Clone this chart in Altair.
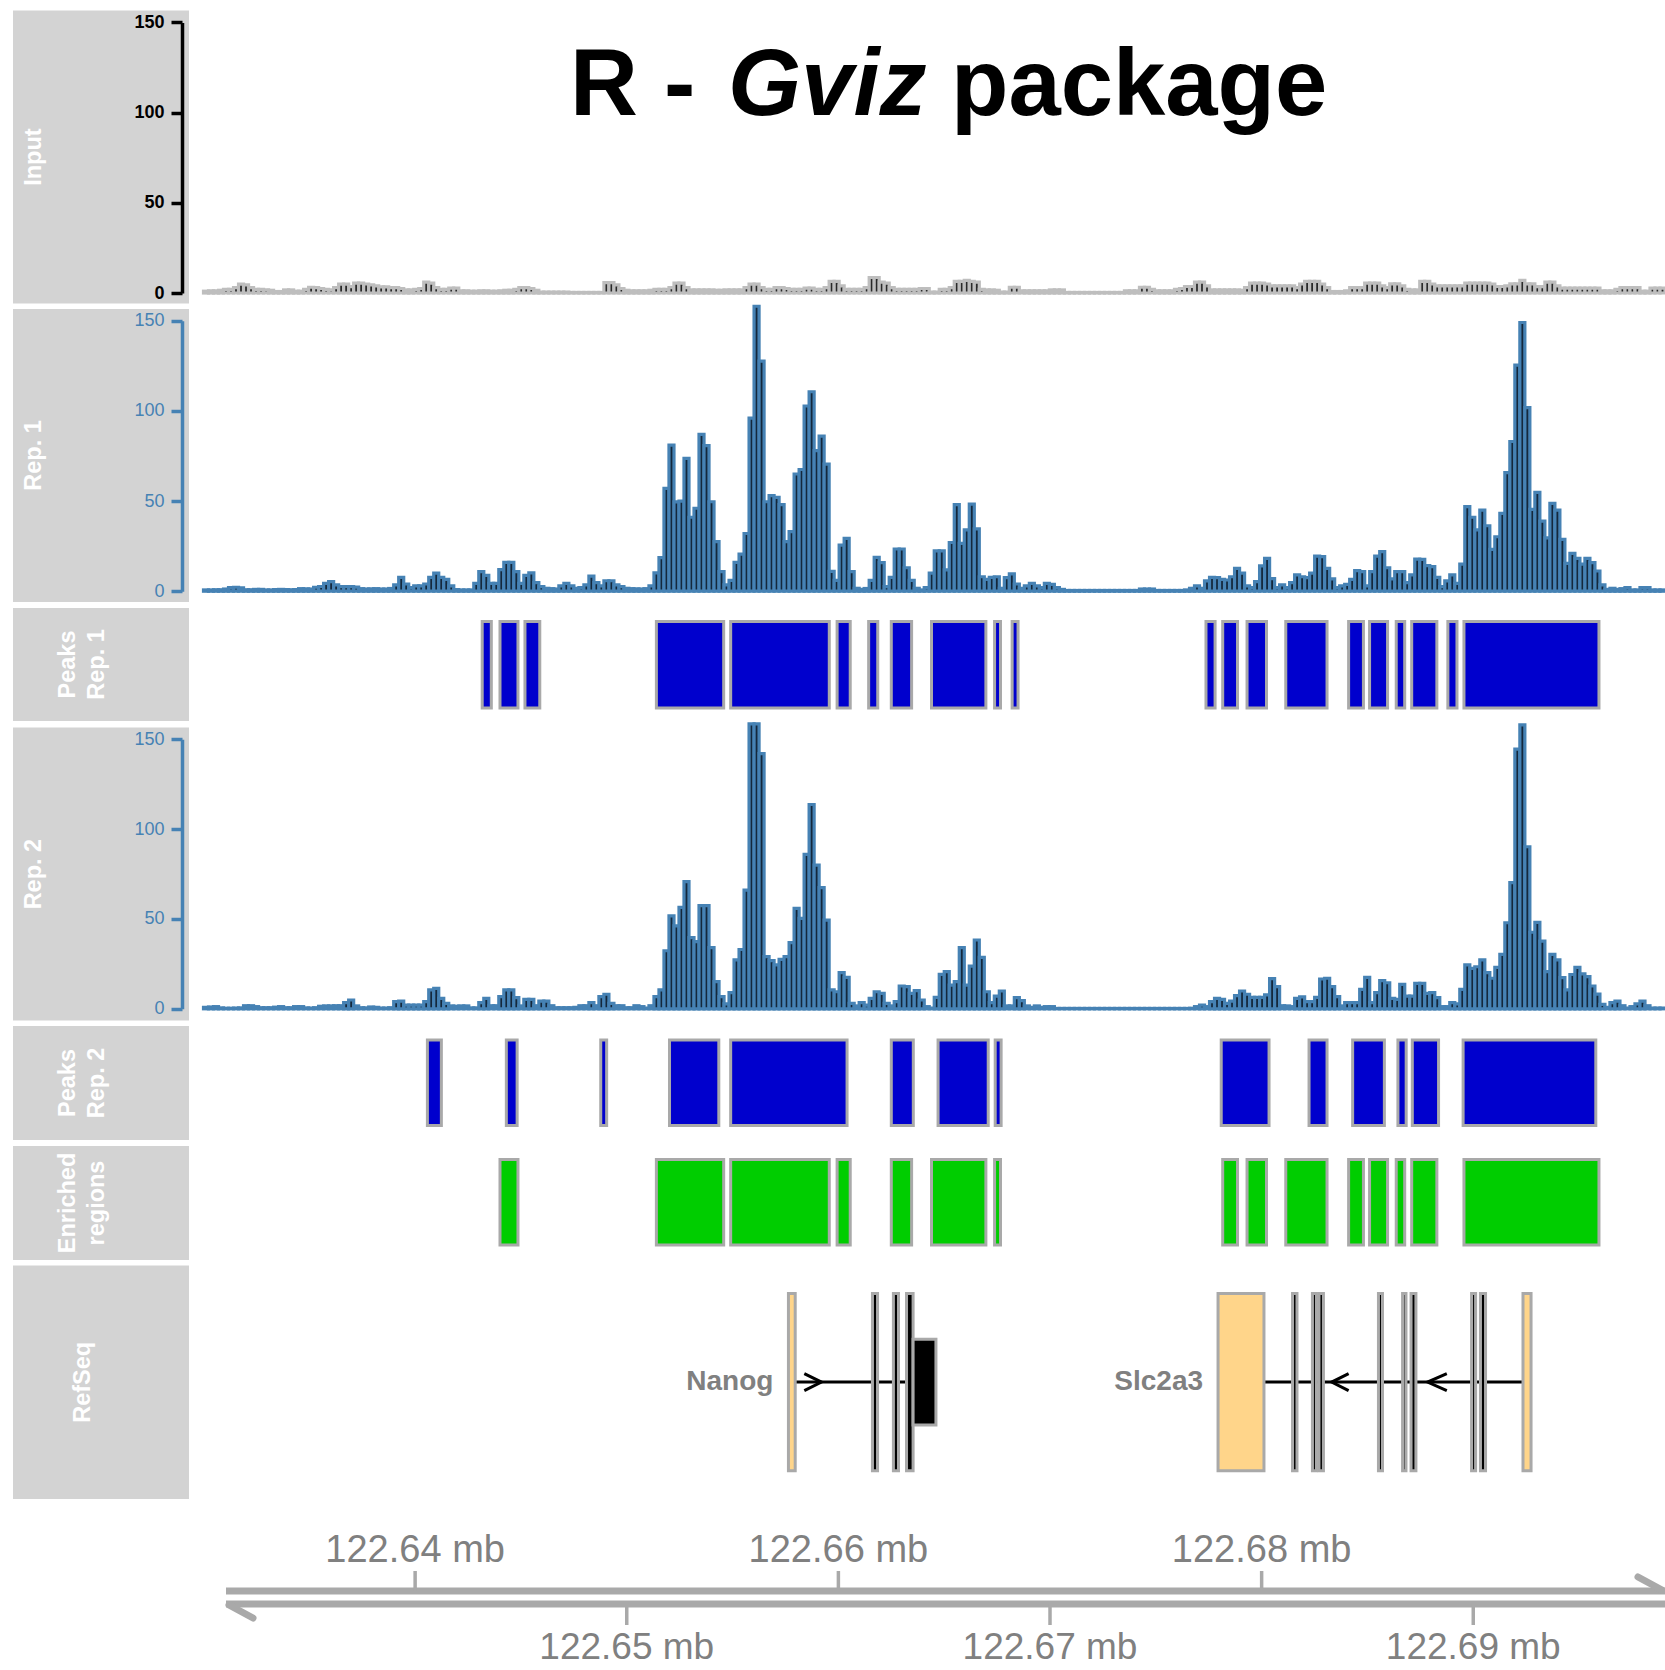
import altair as alt
import pandas as pd

FONT = "Liberation Sans"
W, H = 1665, 1670

# Genomic window shown (kb on chr6) and the coverage binning
WIN_START = 122630.0
WIN_END = 122699.06
N_BINS = 292
BIN_KB = (WIN_END - WIN_START) / N_BINS

# Read coverage per bin
INPUT_COV = [
    1, 1.2, 1.2, 1.5, 2, 2, 3, 4.9, 4.5, 3,
    2, 2, 1.8, 1.5, 0.8, 0.8, 1.7, 1.7, 1, 1,
    2, 3.2, 3, 2.5, 2, 1.8, 3, 4.9, 4.9, 3.5,
    5.5, 5.5, 5, 4.5, 4, 3.4, 3.4, 3, 3, 2.5,
    1.7, 1.7, 2, 2.5, 6, 5.5, 3, 2, 2, 2.7,
    2.7, 1.2, 1.2, 1, 1, 1.2, 1.2, 1, 1, 1.2,
    1.5, 1.5, 2, 3, 3, 2.5, 1.5, 0.5, 0.5, 0.5,
    0.5, 0.5, 0.5, 0.3, 0.3, 0.3, 0.3, 0.3, 0.3, 0.3,
    5.8, 5.8, 4.5, 2.5, 1.5, 1.2, 1.2, 1.2, 1.2, 1.5,
    2, 2, 2, 3, 5.5, 5.5, 3, 1.7, 1.7, 1.7,
    1.7, 1.7, 1.5, 1.5, 1.7, 1.7, 1.7, 1.7, 3, 4.9,
    4.9, 3, 2, 2, 3, 3, 2.5, 2, 2, 2,
    2.7, 2.7, 2, 2, 3, 6.4, 6.4, 4, 2, 2,
    2, 2, 3, 8.6, 8.6, 6, 5.5, 3, 2, 2,
    2, 2, 2, 2.5, 2.5, 0.5, 0.5, 2, 2, 3,
    6.4, 6.4, 7, 6.4, 6, 2, 1.7, 1.7, 1.5, 0.5,
    0.5, 3.2, 3.2, 1.2, 1.2, 1.2, 1.2, 1.2, 1.2, 1.7,
    1.7, 1.7, 0.3, 0.3, 0.3, 0.3, 0.3, 0.3, 0.3, 0.3,
    0.3, 0.3, 0.3, 0.3, 1.2, 1.2, 1.2, 3.2, 3.2, 2,
    1.2, 1.2, 1.2, 1.2, 2, 2.5, 3.6, 3.6, 6, 6,
    4, 1.7, 1.7, 1.7, 1.7, 1.7, 1.7, 1.5, 3, 5.5,
    5.5, 5.5, 5, 4, 4, 4, 4, 4, 3, 5,
    6.4, 6.4, 6.4, 5, 3, 0.8, 0.8, 0.8, 1.2, 3,
    3, 3, 5.5, 5.5, 5.5, 4, 3, 5.1, 5.1, 4,
    2, 1.7, 1.7, 6.4, 6.4, 5, 4, 4, 4, 4,
    4, 4, 5.5, 5.5, 5.5, 5.5, 5.5, 5, 3.6, 3.6,
    4, 5.1, 5.1, 7, 5.1, 5.1, 3.5, 3.5, 6, 6,
    4, 2.7, 2.7, 2.7, 2.7, 2.7, 2.7, 2.7, 2.7, 1.2,
    1.2, 1.2, 2, 3, 3, 3, 3, 1, 1, 2.7,
    2.7, 2.7,
]

REP1_COV = [
    0.7, 0.7, 0.8, 0.8, 1.2, 2, 2.2, 1.8, 0.8, 0.8,
    1, 1, 0.7, 0.7, 0.9, 1, 0.9, 0.8, 0.9, 1.4,
    1.3, 1.2, 2.2, 2.6, 4.3, 5.3, 3.5, 2.5, 2.5, 2.5,
    2.3, 1.4, 1.2, 1.3, 1.4, 1.2, 1.2, 1.5, 3.5, 7.7,
    4, 2, 3, 3, 4, 7.7, 10, 7.7, 6.6, 3,
    0.9, 0.7, 0.7, 0.7, 4.3, 10.8, 8.8, 4.3, 4.3, 12,
    16, 16, 10.8, 4.3, 8.8, 10.2, 4.8, 2.5, 1.6, 1.4,
    1.2, 3, 4.3, 3, 1.6, 2, 3.5, 8.4, 4.8, 3,
    5.8, 5.8, 3.5, 2.5, 1.6, 1.4, 1.3, 1.2, 1.4, 3,
    10.2, 18.6, 57, 81, 49.5, 50, 73.6, 41, 46, 87,
    80.7, 49.6, 27.5, 10.8, 3.5, 6, 16, 20.6, 32, 96,
    158, 127.6, 49.6, 53, 52, 48, 27.5, 33, 65, 67.5,
    102.7, 110.6, 78, 86, 70.5, 11, 6, 25.6, 29.3, 10.8,
    1.6, 1, 1.5, 6, 18.8, 15.8, 2.5, 7.7, 23.4, 23.4,
    13, 6, 1.6, 0.7, 2, 10, 22.4, 22.4, 11.8, 27,
    48, 26.5, 34, 48.3, 34.6, 8, 6.6, 7.7, 8, 1.6,
    7.5, 9.6, 4, 1.6, 3, 4.3, 3, 2, 4.3, 3.8,
    2, 1, 0.4, 0.4, 0.4, 0.4, 0.4, 0.4, 0.4, 0.4,
    0.4, 0.4, 0.4, 0.4, 0.4, 0.4, 0.4, 1.2, 1.2, 1.2,
    0.4, 0.4, 0.4, 0.4, 0.4, 0.4, 0.7, 1.6, 3, 1.6,
    5.7, 7.7, 7.5, 6.6, 6.2, 8, 12.7, 10, 3, 2,
    5.3, 14, 18.2, 7, 2, 3.5, 2, 4.8, 9, 8,
    7.5, 10, 19.5, 19.2, 12.7, 6.8, 2, 3, 3.8, 6.6,
    11.4, 10.8, 3, 10.8, 19.5, 22, 13, 6.8, 10.8, 10.8,
    4.8, 9, 17.8, 17.7, 14.2, 13.6, 7.7, 2.5, 5.7, 9,
    4.3, 15, 46.9, 41, 34, 45, 36.3, 23.2, 30.2, 43.2,
    65.7, 83, 125.4, 149, 101.8, 45.4, 54.8, 38.9, 29.6, 48.7,
    45, 28.7, 15.4, 21, 18.2, 15, 18.2, 15.8, 11.2, 3.5,
    1, 1.6, 1, 1.4, 2, 0.7, 0.7, 2, 2, 0.7,
    0.7, 0.7,
]

REP2_COV = [
    0.8, 1, 1.2, 0.5, 0.3, 0.3, 0.4, 0.5, 1.7, 1.7,
    1.2, 0.6, 0.6, 0.6, 0.9, 1.2, 0.6, 0.6, 1.2, 1.2,
    0.5, 0.4, 0.6, 1.4, 1.6, 1.6, 1.7, 1.7, 3.4, 4.9,
    1.6, 0.6, 0.5, 1, 0.8, 0.4, 0.4, 0.6, 4, 4.3,
    2.1, 2.1, 2.1, 2.1, 4, 10.5, 11.4, 5.8, 3, 1.6,
    1.4, 1.6, 1.6, 0.5, 0.5, 3.4, 5.8, 1.7, 1.7, 6.8,
    10.5, 10.5, 6.2, 1.6, 5.3, 5.3, 1.7, 4.3, 4.3, 1.7,
    0.6, 0.6, 0.6, 0.6, 0.8, 1.7, 1.7, 3.4, 1.7, 6.8,
    8.1, 3, 1.7, 1.7, 0.6, 0.6, 1.7, 1.2, 0.4, 1.7,
    6.8, 10.5, 32.3, 51.7, 46.1, 56.5, 70.8, 39.6, 37.4, 57.4,
    57.4, 34, 15.1, 6.8, 2.7, 9, 27.2, 33, 66.1, 158.6,
    158.6, 142, 29, 26.8, 24.4, 27.5, 29, 36.8, 55.9, 50.3,
    85.9, 113.7, 80, 67.5, 49.4, 10.5, 9.5, 20.1, 17.5, 3,
    1.6, 3.4, 2.1, 5.8, 9.5, 8.6, 3, 1.6, 4, 12.7,
    12.3, 8.6, 10.1, 4.9, 1.2, 0.4, 6.4, 19.2, 20.7, 13.2,
    15.1, 34, 13.2, 23.8, 38.3, 28.6, 9.5, 3.4, 7.1, 9.9,
    1.6, 1.6, 6.2, 4.5, 1.6, 0.8, 1.6, 0.8, 1.2, 1.2,
    0.2, 0.2, 0.2, 0.2, 0.2, 0.2, 0.2, 0.2, 0.2, 0.2,
    0.2, 0.2, 0.2, 0.2, 0.2, 0.2, 0.2, 0.2, 0.2, 0.2,
    0.2, 0.2, 0.2, 0.2, 0.2, 0.2, 0.2, 0.3, 1.2, 2.1,
    1.2, 4, 5.8, 5.3, 3, 4.3, 7.3, 9.9, 8.1, 6.4,
    6.4, 6.4, 7.7, 16.8, 12.3, 1.7, 1.6, 1.2, 5.8, 6.6,
    4, 4, 6.4, 16.6, 17, 12.3, 6.8, 1.6, 3.4, 3.4,
    3.4, 10.8, 17.5, 3.4, 9, 15.7, 14.5, 5.8, 5.3, 13.6,
    7.1, 7.1, 14.2, 14.2, 8.6, 9, 6.2, 1.2, 1.2, 3.4,
    2.7, 10.8, 24.4, 22.5, 23.4, 27.2, 20.1, 17, 23.1, 30.3,
    47.9, 70.2, 144.5, 158, 90.2, 42.6, 48.1, 37.7, 20.7, 30.3,
    27.2, 17.3, 10.5, 19.1, 23.1, 19.4, 17.9, 12.7, 8.2, 2.5,
    0.8, 3.4, 4.3, 1.7, 0.4, 1.2, 2.7, 4.3, 1.7, 0.4,
    0.4, 0.4,
]

# Called peaks (kb start, kb end)
PEAKS_REP1 = [
    (122643.17, 122643.60), (122644.01, 122644.86), (122645.19, 122645.89),
    (122651.40, 122654.58), (122654.91, 122659.57), (122659.94, 122660.56),
    (122661.43, 122661.86), (122662.50, 122663.46), (122664.40, 122666.97),
    (122667.38, 122667.66), (122668.21, 122668.49), (122677.37, 122677.80),
    (122678.16, 122678.86), (122679.31, 122680.23), (122681.14, 122683.09),
    (122684.11, 122684.81), (122685.10, 122685.95), (122686.36, 122686.76),
    (122687.09, 122688.28), (122688.80, 122689.23), (122689.56, 122695.94),
]
PEAKS_REP2 = [
    (122640.58, 122641.24), (122644.31, 122644.82), (122648.77, 122649.05),
    (122652.02, 122654.35), (122654.91, 122660.41), (122662.50, 122663.54),
    (122664.71, 122667.08), (122667.41, 122667.69), (122678.09, 122680.35),
    (122682.24, 122683.09), (122684.30, 122685.80), (122686.44, 122686.83),
    (122687.12, 122688.36), (122689.52, 122695.79),
]
ENRICHED = [
    (122644.01, 122644.86), (122651.40, 122654.58), (122654.91, 122659.57),
    (122659.94, 122660.56), (122662.50, 122663.46), (122664.40, 122666.97),
    (122667.38, 122667.66), (122678.16, 122678.86), (122679.31, 122680.23),
    (122681.14, 122683.09), (122684.11, 122684.81), (122685.10, 122685.95),
    (122686.36, 122686.76), (122687.09, 122688.28), (122689.56, 122695.94),
]

# RefSeq gene models: (gene, start kb, end kb, feature, box)
EXONS = [
    ("Nanog", 122657.64, 122657.96, "utr", "tall"),
    ("Nanog", 122661.61, 122661.85, "cds", "tall"),
    ("Nanog", 122662.60, 122662.84, "cds", "tall"),
    ("Nanog", 122663.22, 122663.53, "cds", "tall"),
    ("Nanog", 122663.53, 122664.61, "cds", "short"),
    ("Slc2a3", 122677.94, 122680.11, "utr", "tall"),
    ("Slc2a3", 122681.46, 122681.67, "cds", "tall"),
    ("Slc2a3", 122682.40, 122682.59, "cds", "tall"),
    ("Slc2a3", 122682.71, 122682.92, "cds", "tall"),
    ("Slc2a3", 122685.52, 122685.71, "cds", "tall"),
    ("Slc2a3", 122686.66, 122686.82, "cds", "tall"),
    ("Slc2a3", 122687.06, 122687.29, "cds", "tall"),
    ("Slc2a3", 122689.92, 122690.11, "cds", "tall"),
    ("Slc2a3", 122690.34, 122690.58, "cds", "tall"),
    ("Slc2a3", 122692.35, 122692.73, "utr", "tall"),
]
INTRONS = [("Nanog", 122657.96, 122663.22), ("Slc2a3", 122680.11, 122692.35)]
# strand chevrons: (open end kb, tip kb)
STRAND_ARROWS = [(122658.39, 122659.20), (122684.11, 122683.31), (122688.75, 122687.84)]

UPPER_TICKS = [122640, 122660, 122680]
LOWER_TICKS = [122650, 122670, 122690]

# ---------------------------------------------------------------- layout
X_RANGE = [203.5, 1665]
AXIS_X = 182
PANEL_BOXES = [(10.6, 303.6), (309, 602), (608, 721), (727.6, 1020.6),
               (1026, 1140), (1146, 1260), (1265.6, 1499)]
PANEL_TITLES = [["Input"], ["Rep. 1"], ["Peaks", "Rep. 1"], ["Rep. 2"],
                ["Peaks", "Rep. 2"], ["Enriched", "regions"], ["RefSeq"]]
TITLE_X = [[34], [34], [68, 97], [34], [68, 97], [68, 97], [83]]

BLUE = "#4682B4"
GRAY_BORDER = "#A9A9A9"

xs = alt.Scale(domain=[WIN_START, WIN_END], range=X_RANGE, nice=False, zero=False)
one = pd.DataFrame({"k": [0]})


def X(field):
    return alt.X(f"{field}:Q", scale=xs, axis=None)


starts = [WIN_START + i * BIN_KB for i in range(N_BINS)]
cov = pd.DataFrame({
    "start": starts,
    "end": [s + BIN_KB for s in starts],
    "input": INPUT_COV,
    "rep1": REP1_COV,
    "rep2": REP2_COV,
})

layers = []

# track title boxes
for (y0, y1), lines, txs in zip(PANEL_BOXES, PANEL_TITLES, TITLE_X):
    layers.append(
        alt.Chart(one).mark_rect(fill="#D3D3D3").encode(
            x=alt.value(13), x2=alt.value(189), y=alt.value(y0), y2=alt.value(y1)))
    for line, tx in zip(lines, txs):
        layers.append(
            alt.Chart(one).mark_text(
                text=line, angle=270, align="center", baseline="middle",
                font=FONT, fontWeight="bold", fontSize=23.5, color="white",
            ).encode(x=alt.value(tx), y=alt.value((y0 + y1) / 2)))


def coverage(field, y_zero, y_top, stroke, fill, axis_color, bold):
    axis = alt.Axis(
        orient="left", offset=-AXIS_X, values=[0, 50, 100, 150], grid=False, title=None,
        tickSize=11, tickWidth=3.5, domainWidth=3.5, domainColor=axis_color,
        tickColor=axis_color, labelColor=axis_color, labelFont=FONT, labelFontSize=18,
        labelFontWeight="bold" if bold else "normal", labelPadding=7, labelOverlap=False,
        zindex=2,
    )
    return alt.Chart(cov).mark_rect(fill=fill, stroke=stroke, strokeWidth=3.2).encode(
        x=X("start"), x2="end",
        y=alt.Y(f"{field}:Q", axis=axis,
                scale=alt.Scale(domain=[0, 150], range=[y_zero, y_top], nice=False)),
        y2=alt.datum(0),
    )


layers.append(coverage("input", 293, 22.4, "#BEBEBE", "#2a2a2a", "black", True))
layers.append(coverage("rep1", 591.2, 320.7, BLUE, "#14283c", BLUE, False))
layers.append(coverage("rep2", 1008.8, 739.3, BLUE, "#14283c", BLUE, False))


def regions(pairs, fill, y0, y1):
    df = pd.DataFrame(pairs, columns=["start", "end"])
    return alt.Chart(df).mark_rect(fill=fill, stroke=GRAY_BORDER, strokeWidth=3).encode(
        x=X("start"), x2="end", y=alt.value(y0), y2=alt.value(y1))


layers.append(regions(PEAKS_REP1, "#0000CD", 621.5, 708))
layers.append(regions(PEAKS_REP2, "#0000CD", 1040, 1125.5))
layers.append(regions(ENRICHED, "#00CD00", 1159.5, 1245))

# RefSeq gene models
ref_y = alt.Scale(domain=[-1, 1], range=[1470.7, 1293.5], nice=False, zero=False)
SHORT_HALF = 0.483
ARROW_HALF = 0.096

introns = pd.DataFrame(INTRONS, columns=["gene", "start", "end"])
introns["mid"] = 0.0
layers.append(alt.Chart(introns).mark_rule(color="black", strokeWidth=3).encode(
    x=X("start"), x2="end", y=alt.Y("mid:Q", scale=ref_y, axis=None)))

arrow_rows = []
for n, (open_x, tip_x) in enumerate(STRAND_ARROWS):
    for k, (ax, ay) in enumerate([(open_x, ARROW_HALF), (tip_x, 0.0), (open_x, -ARROW_HALF)]):
        arrow_rows.append({"id": n, "k": k, "x": ax, "y": ay})
layers.append(alt.Chart(pd.DataFrame(arrow_rows)).mark_line(
    color="black", strokeWidth=3, strokeJoin="miter").encode(
    x=X("x"), y=alt.Y("y:Q", scale=ref_y, axis=None), detail="id:N", order="k:Q"))

exons = pd.DataFrame(EXONS, columns=["gene", "start", "end", "feature", "box"])
exons["lo"] = [-SHORT_HALF if b == "short" else -1.0 for b in exons["box"]]
exons["hi"] = [SHORT_HALF if b == "short" else 1.0 for b in exons["box"]]
layers.append(alt.Chart(exons).mark_rect(stroke=GRAY_BORDER, strokeWidth=3).encode(
    x=X("start"), x2="end",
    y=alt.Y("lo:Q", scale=ref_y, axis=None), y2="hi",
    fill=alt.Fill("feature:N", scale=alt.Scale(domain=["utr", "cds"],
                                              range=["#FFD58A", "#000000"]), legend=None),
))

gene_starts = exons.groupby("gene", as_index=False)["start"].min()
layers.append(alt.Chart(gene_starts).mark_text(
    align="right", baseline="middle", dx=-15, font=FONT, fontWeight="bold",
    fontSize=28, color="#808080").encode(x=X("start"), y=alt.value(1382), text="gene:N"))

# genome axis
AX_GRAY = "#A9A9A9"
layers.append(alt.Chart(one).mark_rule(color=AX_GRAY, strokeWidth=7).encode(
    x=alt.value(226), x2=alt.value(1665), y=alt.value(1591), y2=alt.value(1591)))
layers.append(alt.Chart(one).mark_rule(color=AX_GRAY, strokeWidth=7).encode(
    x=alt.value(226), x2=alt.value(1665), y=alt.value(1604), y2=alt.value(1604)))
layers.append(alt.Chart(one).mark_rule(color=AX_GRAY, strokeWidth=7, strokeCap="round").encode(
    x=alt.value(1638), x2=alt.value(1662), y=alt.value(1577), y2=alt.value(1590)))
layers.append(alt.Chart(one).mark_rule(color=AX_GRAY, strokeWidth=7, strokeCap="round").encode(
    x=alt.value(229), x2=alt.value(253), y=alt.value(1605), y2=alt.value(1618)))

up = pd.DataFrame({"pos": UPPER_TICKS, "label": [f"{t / 1000:.2f} mb" for t in UPPER_TICKS]})
lo = pd.DataFrame({"pos": LOWER_TICKS, "label": [f"{t / 1000:.2f} mb" for t in LOWER_TICKS]})
layers.append(alt.Chart(up).mark_rule(color=AX_GRAY, strokeWidth=3.5).encode(
    x=X("pos"), y=alt.value(1571), y2=alt.value(1591)))
layers.append(alt.Chart(lo).mark_rule(color=AX_GRAY, strokeWidth=3.5).encode(
    x=X("pos"), y=alt.value(1604), y2=alt.value(1625)))
layers.append(alt.Chart(up).mark_text(
    font=FONT, fontSize=38, color="#808080", baseline="alphabetic").encode(
    x=X("pos"), y=alt.value(1562), text="label:N"))
layers.append(alt.Chart(lo).mark_text(
    font=FONT, fontSize=37, color="#808080", baseline="alphabetic").encode(
    x=X("pos"), y=alt.value(1659), text="label:N"))

# headline
for text, style, tx in [("R -", "normal", 570), ("Gviz", "italic", 728), ("package", "normal", 951)]:
    layers.append(alt.Chart(one).mark_text(
        text=text, align="left", baseline="alphabetic", font=FONT, fontWeight="bold",
        fontStyle=style, fontSize=94, color="black").encode(x=alt.value(tx), y=alt.value(115)))

chart = (
    alt.layer(*layers)
    .resolve_scale(y="independent")
    .properties(width=W, height=H, autosize=alt.AutoSizeParams(type="none"), padding=0)
    .configure(background="white")
    .configure_view(strokeWidth=0)
)

chart.save("out.html", embed_options={"renderer": "svg", "actions": False})
